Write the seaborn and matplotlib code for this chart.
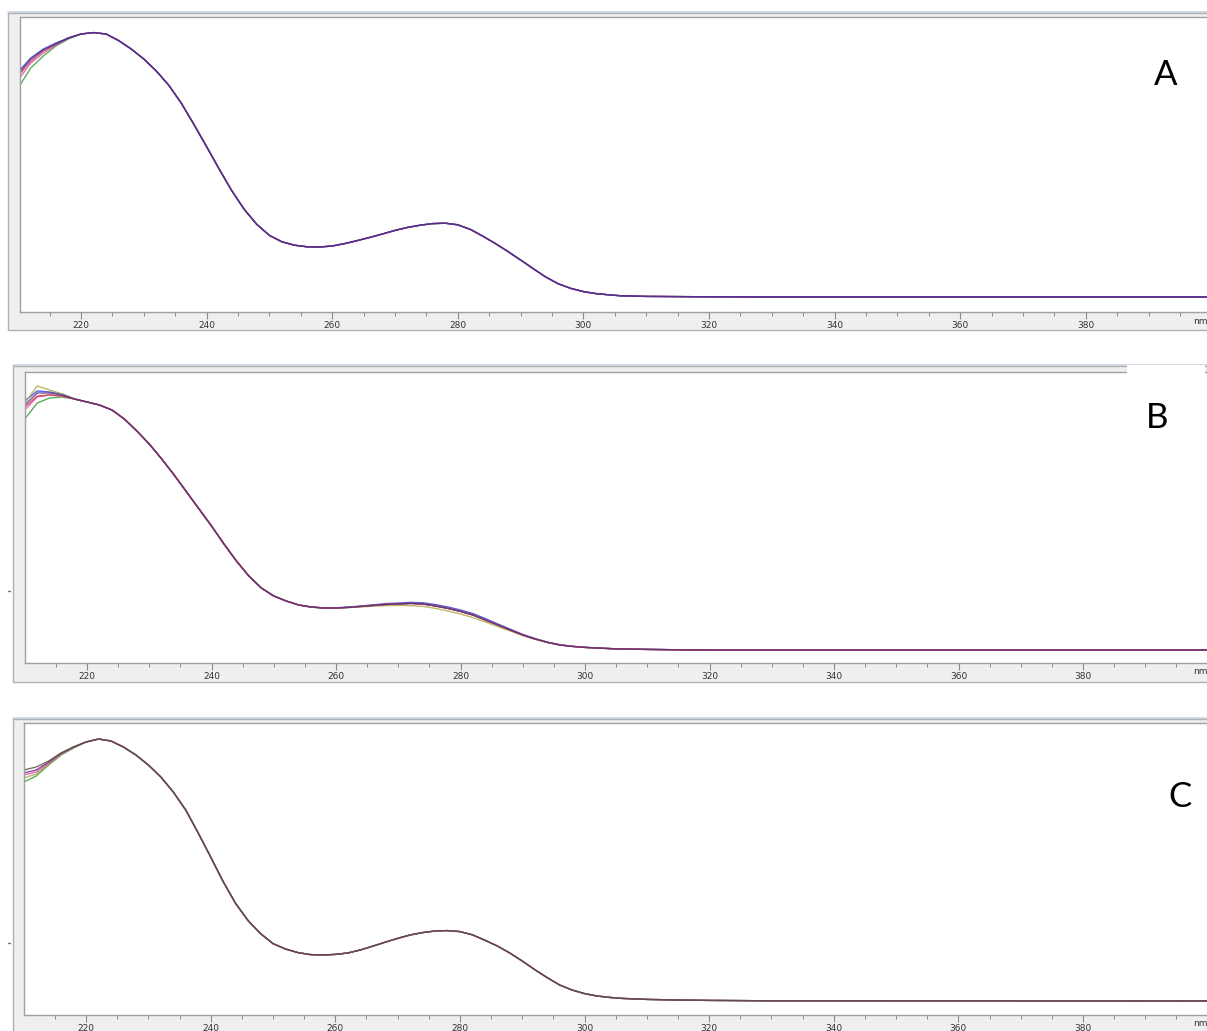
import matplotlib
matplotlib.use("Agg")
import matplotlib.pyplot as plt
import numpy as np
import pandas as pd
import seaborn as sns
from matplotlib.patches import Rectangle
from matplotlib.lines import Line2D
from matplotlib.ticker import MultipleLocator

# ---------------- data (absorbance) ----------------
wavelength = [210, 212, 214, 216, 218,
              220, 222, 224, 226, 228, 230, 232, 234, 236, 238,
              240, 242, 244, 246, 248, 250, 252, 254, 256, 258,
              260, 262, 264, 266, 268, 270, 272, 274, 276, 278,
              280, 282, 284, 286, 288, 290, 292, 294, 296, 298,
              300, 302, 304, 306, 310, 315, 320, 330, 400]

# Panel A: individual starts (210-218 nm), common remainder (220-400 nm)
A_head_blue   = [1.125, 1.195, 1.240, 1.270, 1.295]
A_head_purple = [1.115, 1.190, 1.235, 1.265, 1.295]
A_head_red    = [1.105, 1.180, 1.230, 1.265, 1.295]
A_head_pink   = [1.085, 1.170, 1.220, 1.260, 1.295]
A_head_green  = [1.045, 1.145, 1.205, 1.255, 1.290]
A_body = [1.315, 1.322, 1.315, 1.282, 1.240, 1.190, 1.130, 1.058, 0.968, 0.862,
          0.752, 0.640, 0.532, 0.438, 0.363, 0.308, 0.276, 0.259, 0.251, 0.250,
          0.255, 0.267, 0.282, 0.298, 0.315, 0.333, 0.348, 0.359, 0.367, 0.369,
          0.361, 0.338, 0.304, 0.267, 0.227, 0.185, 0.142, 0.100, 0.066, 0.043,
          0.027, 0.017, 0.011, 0.006, 0.003, 0.002, 0.001, 0.000, 0.000]

# Panel B
B_head_olive  = [1.235, 1.320, 1.300, 1.280, 1.255]
B_head_blue   = [1.245, 1.295, 1.290, 1.280, 1.255]
B_head_purple = [1.225, 1.285, 1.285, 1.275, 1.255]
B_head_pink   = [1.200, 1.265, 1.275, 1.270, 1.255]
B_head_red    = [1.215, 1.270, 1.275, 1.270, 1.255]
B_head_green  = [1.155, 1.235, 1.260, 1.265, 1.255]
B_body = [1.240, 1.225, 1.200, 1.155, 1.095, 1.030, 0.955, 0.875, 0.790, 0.705,
          0.620, 0.530, 0.445, 0.370, 0.310, 0.270, 0.245, 0.225, 0.215, 0.210,
          0.210, 0.213, 0.218, 0.223, 0.228, 0.230, 0.233, 0.230, 0.220, 0.208,
          0.193, 0.175, 0.150, 0.125, 0.100, 0.075, 0.055, 0.038, 0.025, 0.018,
          0.013, 0.010, 0.007, 0.005, 0.003, 0.001, 0.000, 0.000, 0.000]
B_body_olive = [1.240, 1.225, 1.200, 1.155, 1.095, 1.030, 0.955, 0.875, 0.790, 0.705,
                0.620, 0.530, 0.445, 0.370, 0.310, 0.270, 0.245, 0.225, 0.215, 0.210,
                0.210, 0.212, 0.215, 0.219, 0.222, 0.223, 0.222, 0.218, 0.208, 0.195,
                0.180, 0.162, 0.140, 0.117, 0.095, 0.072, 0.053, 0.037, 0.025, 0.018,
                0.013, 0.010, 0.007, 0.005, 0.003, 0.001, 0.000, 0.000, 0.000]
B_body_blue = [1.240, 1.225, 1.200, 1.155, 1.095, 1.030, 0.955, 0.875, 0.790, 0.705,
               0.620, 0.530, 0.445, 0.370, 0.310, 0.270, 0.245, 0.225, 0.215, 0.210,
               0.211, 0.215, 0.220, 0.226, 0.232, 0.235, 0.238, 0.236, 0.227, 0.215,
               0.200, 0.182, 0.157, 0.130, 0.104, 0.078, 0.057, 0.039, 0.026, 0.018,
               0.013, 0.010, 0.007, 0.005, 0.003, 0.001, 0.000, 0.000, 0.000]

# Panel C
C_head_dark   = [1.155, 1.170, 1.200, 1.240, 1.270]
C_head_purple = [1.140, 1.155, 1.195, 1.240, 1.270]
C_head_pink   = [1.130, 1.145, 1.190, 1.235, 1.270]
C_head_olive  = [1.115, 1.135, 1.185, 1.235, 1.270]
C_head_green  = [1.095, 1.125, 1.180, 1.230, 1.265]
C_body = [1.295, 1.310, 1.300, 1.270, 1.230, 1.180, 1.120, 1.045, 0.955, 0.840,
          0.720, 0.597, 0.488, 0.402, 0.337, 0.287, 0.260, 0.242, 0.232, 0.230,
          0.233, 0.240, 0.255, 0.274, 0.294, 0.313, 0.330, 0.342, 0.350, 0.352,
          0.347, 0.331, 0.304, 0.275, 0.240, 0.200, 0.157, 0.117, 0.080, 0.055,
          0.037, 0.025, 0.018, 0.013, 0.008, 0.005, 0.003, 0.001, 0.000]

tick_values = [220, 240, 260, 280, 300, 320, 340, 360, 380]
tick_labels = ["220", "240", "260", "280", "300", "320", "340", "360", "380"]
panel_letters = ["A", "B", "C"]

series_A = {"green": A_head_green + A_body, "pink": A_head_pink + A_body,
            "red": A_head_red + A_body, "blue": A_head_blue + A_body,
            "purple": A_head_purple + A_body}
series_B = {"blue": B_head_blue + B_body_blue, "olive": B_head_olive + B_body_olive,
            "green": B_head_green + B_body, "pink": B_head_pink + B_body,
            "red": B_head_red + B_body, "purple": B_head_purple + B_body}
series_C = {"green": C_head_green + C_body, "olive": C_head_olive + C_body,
            "pink": C_head_pink + C_body, "purple": C_head_purple + C_body,
            "dark": C_head_dark + C_body}

palette = {"blue": "#2c3cd0", "purple": "#5a2c82", "red": "#b84040",
           "pink": "#f040b0", "green": "#2e9a2e", "olive": "#a8a840",
           "dark": "#5e5244"}

# ---------------- figure ----------------
W, H = 1207, 1031
sns.set_theme(style="white")
plt.rcParams["font.family"] = ["DejaVu Sans"]
fig = plt.figure(figsize=(W / 100, H / 100), dpi=100)
fig.patch.set_facecolor("white")


def fx(px):
    return px / W


def fy(py):
    return 1 - py / H


panels = [
    # series, plot box (l, t, r, b), frame box, xlim, ylim, letter pos, tick-label y
    (series_A, (20, 17, 1207, 312), (8, 13, 1210, 330), (210.29, 399.3), (-0.075, 1.40), (1166, 75), 322),
    (series_B, (25, 372, 1207, 663), (13, 366, 1210, 682), (210.04, 399.9), (-0.065, 1.39), (1157, 418), 672),
    (series_C, (24, 723, 1207, 1015), (13, 719, 1210, 1040), (210.04, 399.9), (-0.07, 1.39), (1180, 797), 1024),
]

for i, (series, pbox, fbox, xlim, ylim, lpos, tly) in enumerate(panels):
    l, t, r, b = pbox
    fl, ft, fr, fb = fbox
    fig.patches.append(Rectangle((fx(fl), fy(fb)), fx(fr - fl), (fb - ft) / H,
                                 transform=fig.transFigure, facecolor="#efefef",
                                 edgecolor="#b0b0b0", lw=1.0, zorder=1))
    fig.lines.append(Line2D([fx(fl), fx(fr)], [fy(ft - 1), fy(ft - 1)],
                            transform=fig.transFigure, color="#cfd9e8", lw=2.0, zorder=1))

    ax = fig.add_axes([fx(l), fy(b), fx(r - l), (b - t) / H])
    ax.set_zorder(2)
    ax.set_facecolor("white")

    rows = []
    for name, vals in series.items():
        for w, v in zip(wavelength, vals):
            rows.append({"wavelength": w, "absorbance": v, "trace": name})
    df = pd.DataFrame(rows)
    order = list(series.keys())
    sns.lineplot(data=df, x="wavelength", y="absorbance", hue="trace",
                 hue_order=order, palette=palette, estimator=None, sort=False,
                 legend=False, lw=1.0, alpha=0.8, ax=ax)

    ax.set_xlim(*xlim)
    ax.set_ylim(*ylim)
    ax.set_xlabel("")
    ax.set_ylabel("")
    ax.set_yticks([])
    ax.set_xticks(tick_values)
    ax.set_xticklabels(tick_labels)
    ax.xaxis.set_minor_locator(MultipleLocator(5))
    ax.tick_params(axis="x", which="major", direction="out", length=5, width=0.8,
                   color="#8a8a8a", labelsize=6.5, labelcolor="#333333", pad=1.5, bottom=True)
    ax.tick_params(axis="x", which="minor", direction="out", length=3, width=0.7,
                   color="#8a8a8a", bottom=True)
    for side in ["left", "bottom", "top"]:
        ax.spines[side].set_color("#a0a0a0")
        ax.spines[side].set_linewidth(1.0)
        ax.spines[side].set_visible(True)
    ax.spines["right"].set_visible(False)
    ax.grid(False)

    fig.text(fx(1193), fy(tly), "nm", fontsize=6.5, color="#333333",
             ha="left", va="center", zorder=5)

    if i == 1:
        fig.patches.append(Rectangle((fx(1127), fy(400)), fx(78), 35 / H,
                                     transform=fig.transFigure, facecolor="white",
                                     edgecolor="none", zorder=3))
    fig.text(fx(lpos[0]), fy(lpos[1]), panel_letters[i], fontsize=25,
             family=["Lato", "DejaVu Sans"], color="black",
             ha="center", va="center", zorder=6)

# small marks on the left frames
for yy in (591, 943):
    fig.lines.append(Line2D([fx(8), fx(10)], [fy(yy), fy(yy)], transform=fig.transFigure,
                            color="#707070", lw=1.0, zorder=3))

fig.savefig("out.png", dpi=100)
